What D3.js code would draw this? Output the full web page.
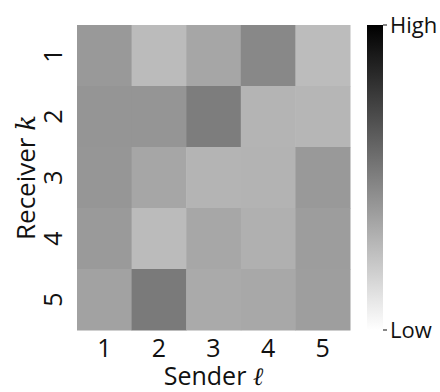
<!DOCTYPE html>
<html>
<head>
<meta charset="utf-8">
<script src="https://cdn.jsdelivr.net/npm/d3@7"></script>
<style>
body{margin:0;background:#fff;}
text{font-family:"Open Sans","DejaVu Sans",sans-serif;fill:#111;}
</style>
</head>
<body>
<svg id="chart"></svg>
<script>
var width=440, height=392;
var senders=["1","2","3","4","5"];
var receivers=["1","2","3","4","5"];
// rows = receiver k, columns = sender l (0 = low, 1 = high)
var row1=[0.40,0.265,0.35,0.465,0.262];
var row2=[0.415,0.415,0.51,0.295,0.285];
var row3=[0.41,0.35,0.295,0.30,0.40];
var row4=[0.395,0.265,0.345,0.31,0.385];
var row5=[0.365,0.52,0.335,0.34,0.38];
var rows=[row1,row2,row3,row4,row5];
var cbLabels=["Low","High"];

var cells=[];
rows.forEach(function(r,i){
  r.forEach(function(v,j){ cells.push({k:receivers[i],l:senders[j],v:v}); });
});

var pLeft=77, pRight=350, pTop=25, pBottom=330;
var svg=d3.select("#chart").attr("width",width).attr("height",height);

var x=d3.scaleBand().domain(senders).range([pLeft,pRight]);
var y=d3.scaleBand().domain(receivers).range([pTop,pBottom]);
var color=d3.scaleLinear().domain([0,1]).range(["#ffffff","#000000"]);

svg.selectAll("rect.cell")
  .data(cells)
  .enter().append("rect")
  .attr("class","cell")
  .attr("x",function(d){return x(d.l);})
  .attr("y",function(d){return y(d.k);})
  .attr("width",x.bandwidth()+0.5)
  .attr("height",y.bandwidth()+0.5)
  .attr("fill",function(d){return color(d.v);});

// x tick labels
svg.selectAll("text.xt")
  .data(senders)
  .enter().append("text")
  .attr("class","xt")
  .attr("x",function(d){return x(d)+x.bandwidth()/2;})
  .attr("y",357)
  .attr("text-anchor","middle")
  .attr("font-size",25)
  .text(function(d){return d;});

// y tick labels (rotated)
svg.selectAll("text.yt")
  .data(receivers)
  .enter().append("text")
  .attr("class","yt")
  .attr("transform",function(d){return "translate(62,"+(y(d)+y.bandwidth()/2)+") rotate(-90)";})
  .attr("text-anchor","middle")
  .attr("font-size",25)
  .text(function(d){return d;});

// axis titles
var xl=svg.append("text")
  .attr("x",(pLeft+pRight)/2)
  .attr("y",385)
  .attr("text-anchor","middle")
  .attr("font-size",25);
xl.append("tspan").text("Sender ");
xl.append("tspan").attr("font-family","DejaVu Serif").attr("font-style","italic").text("ℓ");

var yl=svg.append("text")
  .attr("transform","translate(35,"+((pTop+pBottom)/2)+") rotate(-90)")
  .attr("text-anchor","middle")
  .attr("font-size",26);
yl.append("tspan").text("Receiver ");
yl.append("tspan").attr("font-family","DejaVu Serif").attr("font-style","italic").text("k");

// colorbar
var cbY=d3.scaleLinear().domain([0,1]).range([pBottom,pTop]);
var grad=svg.append("defs").append("linearGradient")
  .attr("id","cb").attr("x1",0).attr("y1",1).attr("x2",0).attr("y2",0);
d3.range(0,1.01,0.1).forEach(function(t){
  grad.append("stop").attr("offset",t).attr("stop-color",color(t));
});
svg.append("rect")
  .attr("x",367).attr("y",cbY(1))
  .attr("width",16).attr("height",cbY(0)-cbY(1))
  .attr("fill","url(#cb)");

svg.selectAll("line.cbt")
  .data([0,1])
  .enter().append("line")
  .attr("x1",383).attr("x2",387)
  .attr("y1",function(d){return cbY(d);})
  .attr("y2",function(d){return cbY(d);})
  .attr("stroke","#111").attr("stroke-width",1);

svg.selectAll("text.cbl")
  .data([0,1])
  .enter().append("text")
  .attr("x",390)
  .attr("y",function(d){return cbY(d);})
  .attr("dy","0.35em")
  .attr("font-size",22)
  .text(function(d){return cbLabels[d];});
</script>
</body>
</html>
